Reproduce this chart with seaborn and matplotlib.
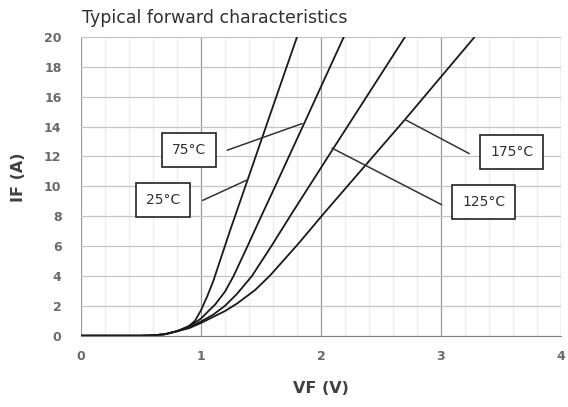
import numpy as np
import pandas as pd
import matplotlib.pyplot as plt
import seaborn as sns
from matplotlib.ticker import MultipleLocator

# forward voltage / current points
vf_25 = [0.0, 0.5, 0.6, 0.7, 0.8, 0.9, 0.95, 1.0, 1.05, 1.1, 1.244, 1.4, 1.619, 1.8]
if_25 = [0.0, 0.0, 0.02, 0.1, 0.3, 0.65, 1.0, 1.7, 2.6, 3.6, 7.08, 10.7, 15.8, 20.0]

vf_75 = [0.0, 0.5, 0.6, 0.7, 0.8, 0.9, 1.0, 1.05, 1.119, 1.2, 1.272, 1.388, 1.508, 1.605, 1.842, 2.19]
if_75 = [0.0, 0.0, 0.02, 0.1, 0.3, 0.6, 1.15, 1.55, 2.1, 2.95, 4.0, 6.0, 8.1, 9.77, 13.9, 20.0]

vf_125 = [0.0, 0.5, 0.6, 0.7, 0.8, 0.9, 1.0, 1.1, 1.2, 1.3, 1.425, 1.59, 1.758, 2.092, 2.7]
if_125 = [0.0, 0.0, 0.02, 0.1, 0.3, 0.55, 0.95, 1.4, 2.0, 2.8, 4.0, 6.04, 8.2, 12.4, 20.0]

vf_175 = [0.0, 0.5, 0.6, 0.7, 0.8, 0.9, 1.0, 1.1, 1.2, 1.3, 1.45, 1.578, 1.805, 2.036, 2.703, 3.28]
if_175 = [0.0, 0.0, 0.02, 0.1, 0.3, 0.5, 0.85, 1.25, 1.65, 2.15, 3.05, 4.05, 6.1, 8.3, 14.5, 20.0]

temps = ["25°C", "75°C", "125°C", "175°C"]

frames = []
for t, v, i in zip(temps, [vf_25, vf_75, vf_125, vf_175], [if_25, if_75, if_125, if_175]):
    frames.append(pd.DataFrame({"VF": v, "IF": i, "temp": t}))
df = pd.concat(frames, ignore_index=True)

sns.set_style("white")
plt.rcParams["font.family"] = ["DejaVu Sans"]

fig = plt.figure(figsize=(5.68, 4.07), dpi=100)
ax = fig.add_axes([0.1426, 0.1752, 0.845, 0.7339])

sns.lineplot(data=df, x="VF", y="IF", hue="temp", palette=["#1a1a1a"] * 4,
             sort=False, estimator=None, legend=False, linewidth=1.3, ax=ax)

ax.set_xlim(0, 4)
ax.set_ylim(0, 20)
ax.xaxis.set_major_locator(MultipleLocator(1))
ax.xaxis.set_minor_locator(MultipleLocator(0.2))
ax.yaxis.set_major_locator(MultipleLocator(2))

ax.grid(which="minor", axis="x", color="#ececec", lw=0.9)
ax.grid(which="major", axis="x", color="#9a9a9a", lw=0.9)
ax.grid(which="major", axis="y", color="#c4c4c4", lw=0.9)
ax.set_axisbelow(True)

for s in ["top", "right", "left"]:
    ax.spines[s].set_visible(False)
ax.spines["bottom"].set_color("#808080")
ax.tick_params(which="both", length=0)
ax.tick_params(axis="y", pad=14)
ax.tick_params(axis="x", pad=10)
for lab in ax.get_xticklabels() + ax.get_yticklabels():
    lab.set_fontweight("bold")
    lab.set_color("#6a6a6a")
    lab.set_fontsize(9)

ax.set_xlabel("VF (V)", fontsize=11.5, color="#404040", fontweight="bold", labelpad=13)
ax.set_ylabel("IF (A)", fontsize=11.5, color="#404040", fontweight="bold")
ax.yaxis.set_label_coords(-0.115, 0.53)

fig.text(0.144, 0.956, "Typical forward characteristics", fontsize=12.5, color="#303030",
         va="center", ha="left")

# labels with leader lines
box = dict(boxstyle="square,pad=0.72", fc="white", ec="#222222", lw=1.2)
labels = [
    ("25°C", (0.686, 9.1), (1.014, 9.06), (1.388, 10.44)),
    ("75°C", (0.9, 12.46), (1.219, 12.42), (1.842, 14.2)),
    ("125°C", (3.356, 8.92), (3.006, 8.77), (2.092, 12.56)),
    ("175°C", (3.59, 12.3), (3.236, 12.19), (2.703, 14.46)),
]
for txt, pos, start, tip in labels:
    ax.annotate("", xy=tip, xytext=start,
                arrowprops=dict(arrowstyle="-", color="#333333", lw=1.1,
                                shrinkA=0, shrinkB=0))
    ax.text(pos[0], pos[1], txt, ha="center", va="center", fontsize=10,
            color="#303030", bbox=box)

fig.savefig("out.png", dpi=100)
